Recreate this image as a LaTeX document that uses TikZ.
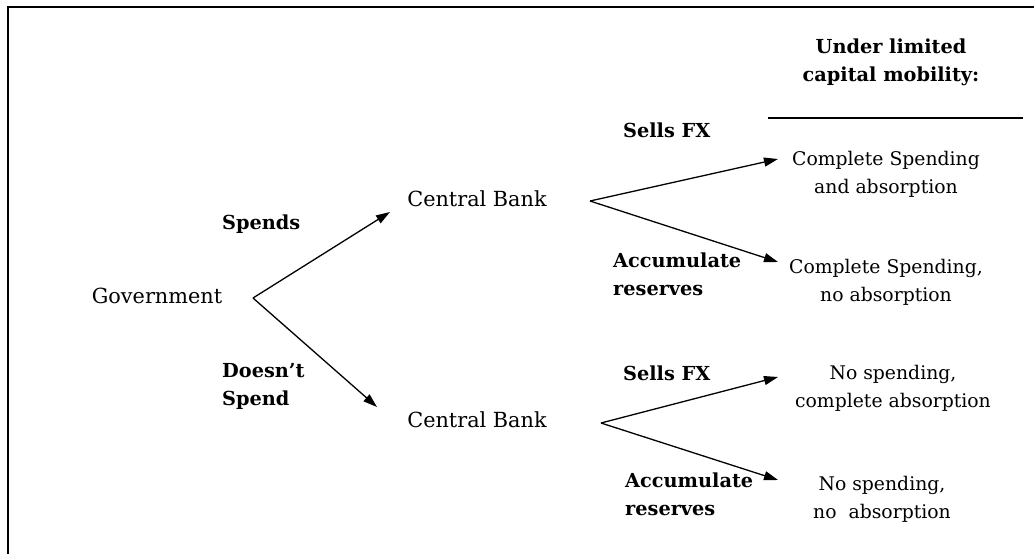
\documentclass[tikz,border=0pt]{standalone}
\usepackage{fontspec}
\setmainfont{DejaVu Serif}
\usetikzlibrary{arrows.meta}
\begin{document}
\begin{tikzpicture}[x=1pt,y=-1pt,
  lbl/.style={font=\fontsize{19.3}{28}\selectfont\bfseries, align=left, inner sep=0pt},
  txt/.style={font=\fontsize{20.8}{28}\selectfont, align=center, inner sep=0pt},
  outc/.style={font=\fontsize{18.8}{28}\selectfont, align=center, inner sep=0pt},
  arr/.style={-{Triangle[length=14pt,width=9pt]}, line width=1.3pt}]
\useasboundingbox (0,0) rectangle (1034,554);
\draw[line width=1.8pt] (8,554) -- (8,7) -- (1034,7);
% header
\node[lbl, align=center] (hdr) at (891,62) {Under limited\\capital mobility:};
\coordinate (r1) at (768,118);
\coordinate (r2) at (1023,118);
\draw[line width=1.2pt] (r1) -- (r2);
% main nodes
\node[txt] (gov) at (157,296) {Government};
\node[txt] (cb1) at (477,199) {Central Bank};
\node[txt] (cb2) at (477,420) {Central Bank};
\node[outc] (o1) at (886,174) {Complete Spending\\and absorption};
\node[outc] (o2) at (886,282) {Complete Spending,\\no absorption};
\node[outc] (o3) at (893,388) {No spending,\\complete absorption};
\node[outc] (o4) at (882,499) {No spending,\\no\ \ absorption};
% labels
\node[lbl, anchor=west] (spends) at (222,224) {Spends};
\node[lbl, anchor=west] (doesnt) at (222,386) {Doesn't\\Spend};
\node[lbl, anchor=west] (sfx1) at (623,130) {Sells FX};
\node[lbl, anchor=west] (acc1) at (613,274) {Accumulate\\reserves};
\node[lbl, anchor=west] (sfx2) at (623,373) {Sells FX};
\node[lbl, anchor=west] (acc2) at (625,494) {Accumulate\\reserves};
% branch points and arrow ends
\coordinate (g) at (253,298);
\coordinate (gt1) at (390,212);
\coordinate (gt2) at (377,407);
\coordinate (c1) at (590,201);
\coordinate (c1a) at (778,159);
\coordinate (c1b) at (778,262);
\coordinate (c2) at (601,423);
\coordinate (c2a) at (778,377);
\coordinate (c2b) at (778,480);
\draw[arr] (g) -- (gt1);
\draw[arr] (g) -- (gt2);
\draw[arr] (c1) -- (c1a);
\draw[arr] (c1) -- (c1b);
\draw[arr] (c2) -- (c2a);
\draw[arr] (c2) -- (c2b);
\end{tikzpicture}
\end{document}
